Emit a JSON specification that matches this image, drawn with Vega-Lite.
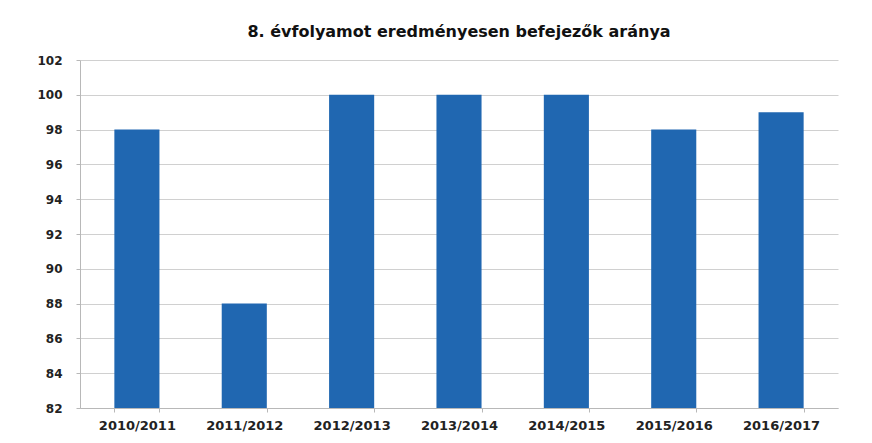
{
  "$schema": "https://vega.github.io/schema/vega-lite/v6.json",
  "width": 758,
  "height": 348,
  "autosize": {"type": "none"},
  "padding": {"left": 80, "top": 60, "right": 34, "bottom": 35},
  "background": "white",
  "title": {
    "text": "8. évfolyamot eredményesen befejezők aránya",
    "font": "DejaVu Sans",
    "fontSize": 16,
    "fontWeight": "bold",
    "color": "#111111",
    "anchor": "middle",
    "offset": 14
  },
  "data": {
    "values": [
      {"tanev": "2010/2011", "arany": 98},
      {"tanev": "2011/2012", "arany": 88},
      {"tanev": "2012/2013", "arany": 100},
      {"tanev": "2013/2014", "arany": 100},
      {"tanev": "2014/2015", "arany": 100},
      {"tanev": "2015/2016", "arany": 98},
      {"tanev": "2016/2017", "arany": 99}
    ]
  },
  "mark": {"type": "bar", "color": "#2067b1", "clip": true},
  "encoding": {
    "x": {
      "field": "tanev",
      "type": "nominal",
      "sort": null,
      "title": null,
      "scale": {"paddingInner": 0.58, "paddingOuter": 0.32},
      "axis": {
        "labelAngle": 0,
        "labelFont": "DejaVu Sans",
        "labelFontSize": 13,
        "labelFontWeight": "bold",
        "labelColor": "#222222",
        "labelPadding": 7,
        "domainColor": "#b8b8b8",
        "tickColor": "#b8b8b8",
        "tickBand": "extent",
        "tickSize": 4
      }
    },
    "y": {
      "field": "arany",
      "type": "quantitative",
      "title": null,
      "scale": {"domain": [82, 102], "nice": false, "zero": false},
      "axis": {
        "values": [82, 84, 86, 88, 90, 92, 94, 96, 98, 100, 102],
        "labelFont": "DejaVu Sans",
        "labelFontSize": 12,
        "labelFontWeight": "bold",
        "labelColor": "#222222",
        "labelPadding": 14,
        "tickSize": 4,
        "tickColor": "#b8b8b8",
        "domainColor": "#b8b8b8",
        "gridColor": "#d0d0d0",
        "grid": true
      }
    }
  },
  "config": {"view": {"stroke": null}}
}
